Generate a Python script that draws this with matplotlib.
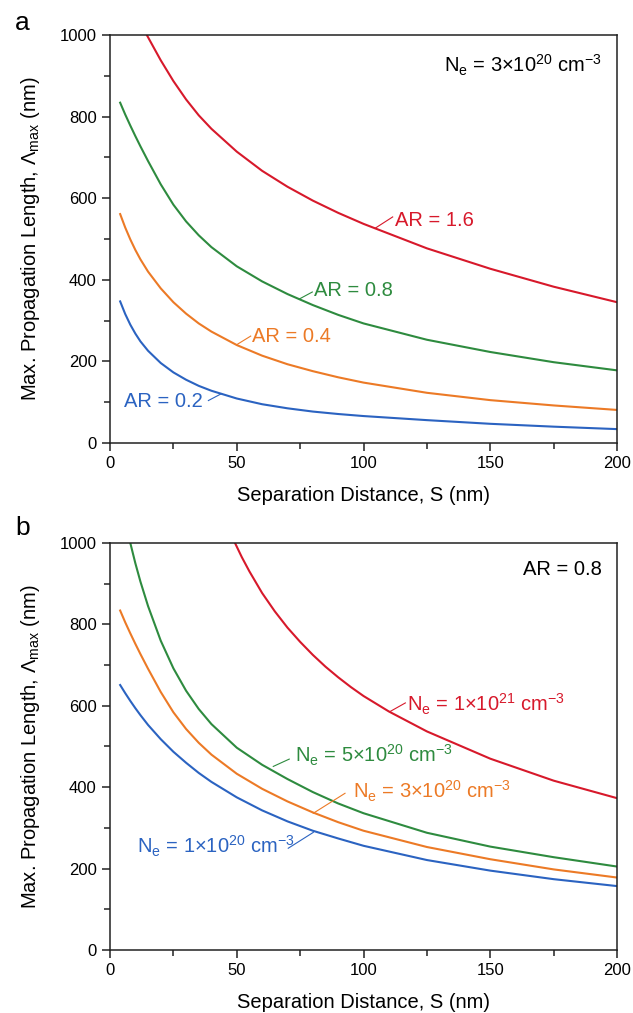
import matplotlib
matplotlib.use('Agg')
import matplotlib.pyplot as plt
from matplotlib.ticker import MultipleLocator

plt.rcParams['font.family'] = ['Liberation Sans', 'DejaVu Sans']
plt.rcParams['mathtext.fontset'] = 'custom'
plt.rcParams['mathtext.rm'] = 'Liberation Sans'
plt.rcParams['mathtext.it'] = 'Liberation Sans:italic'

# panel a: Ne = 3e20 cm^-3, different aspect ratios
s_a = [4, 6, 8, 10, 12, 15, 20, 25, 30, 35, 40, 50, 60, 70, 80, 90, 100, 125, 150, 175, 200]
ar02 = [347, 316, 290, 268, 249, 226, 196, 173, 155, 140, 128, 109, 95, 85, 77, 71, 66, 56, 47, 40, 34]
ar04 = [561, 528, 499, 473, 450, 420, 379, 345, 317, 293, 273, 240, 214, 193, 176, 161, 148, 123, 105, 92, 81]
ar08 = [834, 805, 778, 752, 727, 691, 634, 584, 543, 509, 480, 433, 396, 365, 338, 314, 293, 253, 223, 198, 178]
s_ar16 = [14.5, 20, 25, 30, 35, 40, 50, 60, 70, 80, 90, 100, 125, 150, 175, 200]
ar16 = [1000, 938, 887, 842, 803, 770, 714, 667, 628, 594, 564, 537, 477, 427, 383, 345]

# panel b: AR = 0.8, different carrier densities
ne1e20 = [651, 631, 612, 594, 577, 553, 518, 487, 460, 435, 413, 375, 343, 316, 293, 274, 256, 221, 195, 174, 157]
ne3e20 = ar08
s_ne5 = [8, 10, 12, 15, 20, 25, 30, 35, 40, 50, 60, 70, 80, 90, 100, 125, 150, 175, 200]
ne5e20 = [1000, 950, 905, 845, 760, 692, 637, 592, 555, 497, 455, 420, 388, 360, 336, 288, 254, 228, 205]
s_ne10 = [49.3, 52, 55, 60, 65, 70, 75, 80, 85, 90, 95, 100, 110, 125, 150, 175, 200]
ne1e21 = [1000, 965, 930, 877, 832, 792, 757, 725, 696, 670, 646, 624, 586, 537, 470, 416, 373]

red = '#D7192B'
green = '#2E8B3F'
orange = '#EC7A26'
blue = '#2B63C1'

fig = plt.figure(figsize=(6.33, 10.13), dpi=100)
ax_a = fig.add_axes([0.1738, 0.5627, 0.801, 0.4028])
ax_b = fig.add_axes([0.1738, 0.0622, 0.801, 0.4018])

ylab = r'Max. Propagation Length, $\mathit{\Lambda}_{\mathregular{max}}$ (nm)'

for ax in (ax_a, ax_b):
    ax.set_xlim(0, 200)
    ax.set_ylim(0, 1000)
    ax.xaxis.set_major_locator(MultipleLocator(50))
    ax.xaxis.set_minor_locator(MultipleLocator(25))
    ax.yaxis.set_major_locator(MultipleLocator(200))
    ax.yaxis.set_minor_locator(MultipleLocator(100))
    ax.tick_params(which='both', direction='out', top=False, right=False,
                   labelsize=12, width=1.1, color='#222222')
    ax.tick_params(which='major', length=6)
    ax.tick_params(which='minor', length=4)
    for sp in ax.spines.values():
        sp.set_linewidth(1.1)
        sp.set_color('#222222')
    ax.set_xlabel('Separation Distance, S (nm)', fontsize=14.5, labelpad=11)
    ax.set_ylabel(ylab, fontsize=14.5, labelpad=13)

lw = 1.5
ax_a.plot(s_a, ar02, color=blue, lw=lw)
ax_a.plot(s_a, ar04, color=orange, lw=lw)
ax_a.plot(s_a, ar08, color=green, lw=lw)
ax_a.plot(s_ar16, ar16, color=red, lw=lw)

fs = 14.5
ax_a.text(0.97, 0.926, r'N$_\mathregular{e}$ = 3×10$^\mathregular{20}$ cm$^\mathregular{-3}$',
          transform=ax_a.transAxes, ha='right', va='center', fontsize=fs)
ax_a.text(112.4, 545, 'AR = 1.6', color=red, fontsize=fs, va='center')
ax_a.plot([104.5, 111.5], [526, 554], color=red, lw=0.8)
ax_a.text(80.5, 373, 'AR = 0.8', color=green, fontsize=fs, va='center')
ax_a.plot([74.7, 79.8], [353, 370], color=green, lw=0.8)
ax_a.text(55.9, 260, 'AR = 0.4', color=orange, fontsize=fs, va='center')
ax_a.plot([50, 55.5], [241, 262], color=orange, lw=0.8)
ax_a.text(5.5, 101, 'AR = 0.2', color=blue, fontsize=fs, va='center')
ax_a.plot([38.8, 44], [104, 121], color=blue, lw=0.8)

ax_b.plot(s_a, ne1e20, color=blue, lw=lw)
ax_b.plot(s_a, ne3e20, color=orange, lw=lw)
ax_b.plot(s_ne5, ne5e20, color=green, lw=lw)
ax_b.plot(s_ne10, ne1e21, color=red, lw=lw)

ax_b.text(0.97, 0.934, 'AR = 0.8', transform=ax_b.transAxes, ha='right', va='center', fontsize=fs)
ax_b.text(117, 603, r'N$_\mathregular{e}$ = 1×10$^\mathregular{21}$ cm$^\mathregular{-3}$',
          color=red, fontsize=fs, va='center')
ax_b.plot([110.5, 116.5], [586, 607], color=red, lw=0.8)
ax_b.text(73, 477, r'N$_\mathregular{e}$ = 5×10$^\mathregular{20}$ cm$^\mathregular{-3}$',
          color=green, fontsize=fs, va='center')
ax_b.plot([64.4, 70.7], [451, 469], color=green, lw=0.8)
ax_b.text(96, 390, r'N$_\mathregular{e}$ = 3×10$^\mathregular{20}$ cm$^\mathregular{-3}$',
          color=orange, fontsize=fs, va='center')
ax_b.plot([80.2, 92.7], [336, 385], color=orange, lw=0.8)
ax_b.text(10.5, 255, r'N$_\mathregular{e}$ = 1×10$^\mathregular{20}$ cm$^\mathregular{-3}$',
          color=blue, fontsize=fs, va='center')
ax_b.plot([70.3, 80.2], [250, 289], color=blue, lw=0.8)

fig.text(0.024, 0.970, 'a', fontsize=19, va='baseline')
fig.text(0.024, 0.472, 'b', fontsize=19, va='baseline')

fig.savefig('out.png', dpi=100)
